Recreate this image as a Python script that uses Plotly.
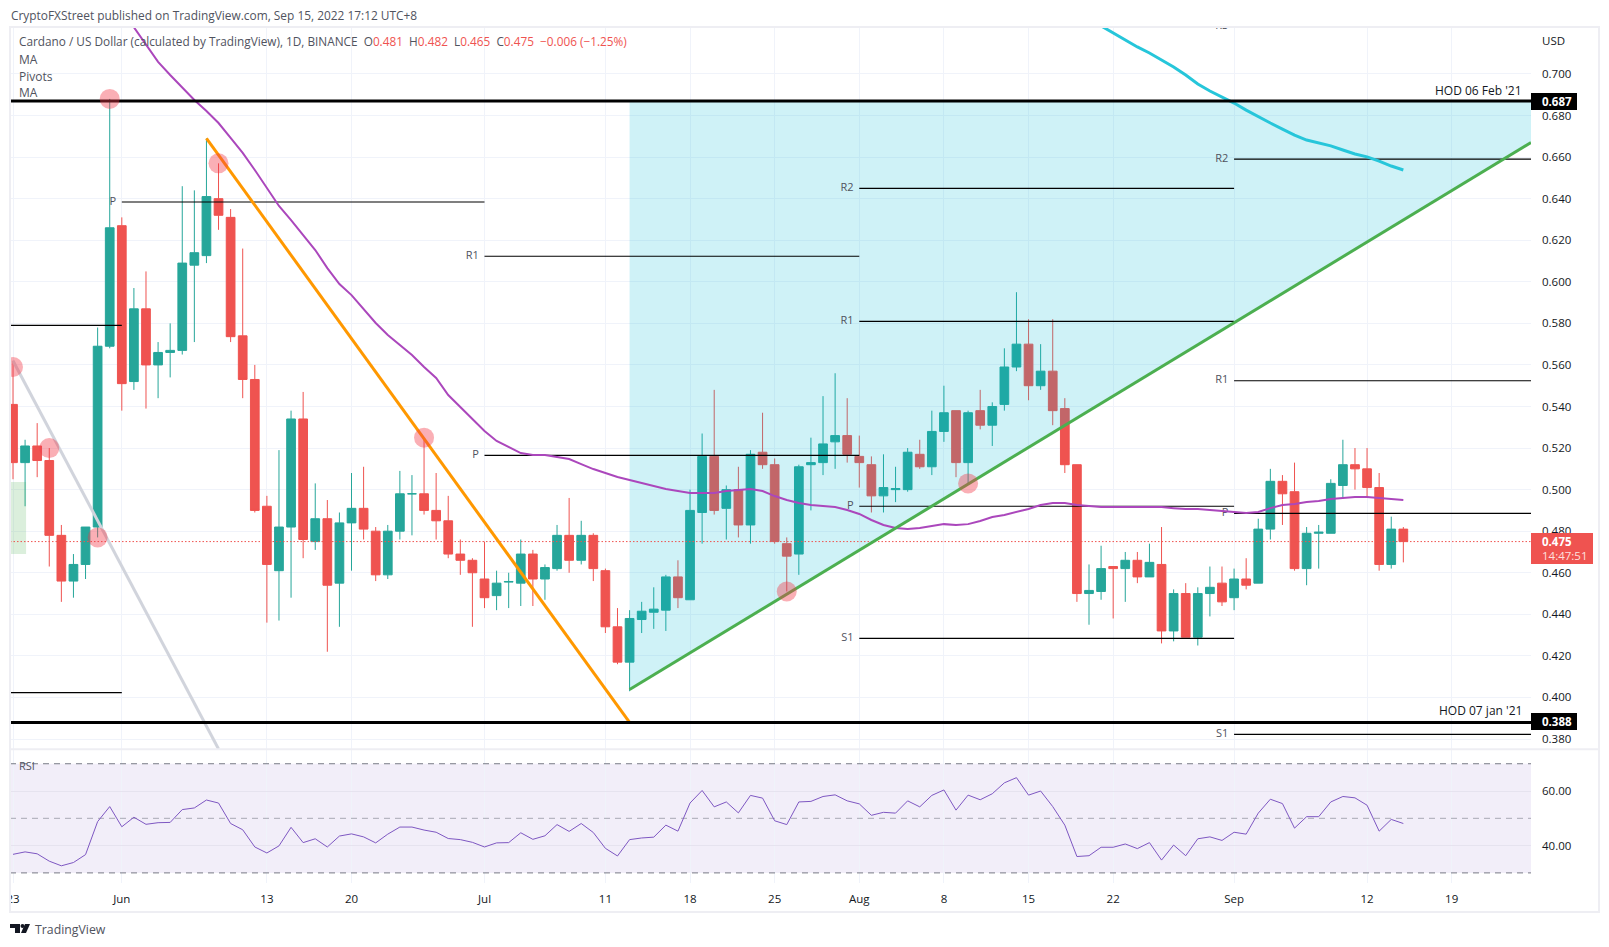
import pandas as pd
import plotly.graph_objects as go
from plotly.subplots import make_subplots

###############################################################################
# Data
###############################################################################
days = pd.date_range("2022-05-23", periods=116).strftime("%Y-%m-%d").tolist()

opens = [
    .541, .513, .521, .514, .478, .456, .464, .482, .569, .627, .552, .587, .560, .566, .567, .608,
    .6126, .640, .631, .574, .553, .492, .461, .482, .534, .475, .486, .455, .484, .491, .480, .459,
    .480, .498, .498, .490, .485, .469, .466, .457, .449, .4555, .455, .469, .457, .462, .478, .466,
    .478, .461, .434, .417, .4375, .441, .442, .458, .447, .489, .516, .491, .500, .483, .518, .512,
    .474, .469, .512, .513, .523, .526, .516, .512, .497, .500, .500, .517, .511, .528, .538, .513,
    .538, .531, .541, .559, .570, .550, .557, .539, .512, .450, .451, .463, .462, .466, .458, .464,
    .432, .450, .429, .450, .455, .448, .457, .455, .481, .504, .499, .462, .479, .479, .502, .512,
    .510, .501, .464, .481,
]
highs = [
    .562, .524, .532, .520, .483, .469, .482, .578, .688, .631, .597, .605, .571, .580, .646, .644,
    .669, .657, .635, .616, .560, .497, .519, .538, .547, .503, .495, .489, .508, .511, .482, .483,
    .509, .507, .524, .508, .497, .476, .467, .475, .461, .460, .476, .471, .464, .483, .496, .485,
    .479, .462, .443, .442, .446, .453, .459, .466, .500, .527, .548, .502, .511, .519, .537, .515,
    .477, .512, .525, .545, .556, .544, .526, .516, .517, .511, .520, .524, .538, .550, .538, .538,
    .548, .542, .568, .595, .582, .570, .582, .544, .512, .464, .473, .463, .470, .470, .474, .482,
    .452, .455, .453, .463, .463, .462, .467, .486, .510, .507, .513, .482, .483, .505, .524, .520,
    .520, .508, .487, .482,
]
lows = [
    .505, .492, .506, .463, .446, .448, .457, .477, .568, .538, .548, .539, .544, .554, .565, .571,
    .609, .625, .571, .544, .489, .436, .437, .448, .467, .471, .422, .434, .461, .476, .456, .457,
    .476, .478, .488, .476, .467, .459, .434, .443, .442, .443, .444, .444, .447, .461, .460, .464,
    .456, .431, .416, .403, .431, .433, .432, .443, .447, .474, .488, .476, .477, .474, .510, .474,
    .451, .459, .490, .507, .510, .513, .501, .489, .489, .494, .499, .510, .507, .523, .506, .503,
    .529, .521, .538, .557, .543, .548, .531, .508, .446, .435, .447, .438, .446, .455, .458, .426,
    .427, .429, .425, .439, .444, .442, .452, .455, .476, .483, .461, .454, .462, .479, .496, .500,
    .496, .461, .462, .465,
]
closes = [
    .513, .521, .514, .478, .456, .464, .482, .569, .626, .551, .587, .560, .566, .567, .609, .614,
    .641, .632, .5736, .553, .490, .464, .482, .534, .476, .486, .454, .484, .491, .481, .459, .480,
    .498, .498, .490, .485, .469, .466, .460, .448, .455, .4558, .469, .457, .4625, .478, .466, .478,
    .462, .434, .417, .438, .4415, .4425, .458, .448, .490, .516, .490, .500, .483, .517, .512, .475,
    .468, .511, .513, .522, .526, .517, .513, .497, .501, .5005, .518, .511, .528, .537, .513, .537,
    .531, .540, .559, .570, .550, .557, .538, .512, .450, .4515, .462, .462, .466, .458, .465, .432,
    .450, .429, .450, .453, .446, .457, .454, .481, .504, .498, .462, .479, .4795, .503, .512, .510,
    .501, .464, .481, .475,
]

ma_days = days[9:]
ma_purple = [
    .7308, .7226, .7144, .7058, .6995, .6933, .6875, .6822, .6764, .6692, .6620, .6538, .6451, .6365,
    .6297, .6225, .6153, .6066, .5989, .5936, .5869, .5802, .5744, .5696, .5648, .5590, .5537, .5455,
    .5398, .5340, .5282, .5234, .5205, .5176, .5167, .5167, .5157, .5147, .5123, .5099, .5080, .5061,
    .5046, .5032, .5017, .5003, .4993, .4984, .4984, .4984, .4993, .4998, .5003, .4993, .4969, .4950,
    .4936, .4926, .4921, .4916, .4902, .4883, .4854, .4830, .4815, .4810, .4815, .4825, .4834, .4830,
    .4834, .4849, .4868, .4878, .4892, .4907, .4926, .4936, .4936, .4926, .4921, .4916, .4916, .4916,
    .4916, .4916, .4916, .4911, .4907, .4907, .4902, .4897, .4892, .4887, .4892, .4911, .4926, .4931,
    .4940, .4945, .4955, .4960, .4964, .4964, .4960, .4955, .4950,
]
ma_cyan_days = days[89:]
ma_cyan = [
    .7265, .7231, .7197, .7164, .7130, .7101, .7067, .7034, .6995, .6952, .6918, .6889, .6860, .6826,
    .6793, .6764, .6735, .6706, .6682, .6668, .6654, .6634, .6615, .6601, .6581, .6557, .6538,
]
rsi = [
    36.8, 37.7, 37.0, 34.3, 32.6, 33.8, 36.7, 48.8, 54.3, 46.9, 50.4, 47.8, 48.4, 48.5, 53.2, 53.8,
    56.7, 55.6, 48.1, 45.8, 39.5, 37.3, 39.9, 46.7, 41.1, 42.5, 39.5, 43.5, 44.3, 43.2, 41.0, 44.2,
    46.8, 46.8, 45.7, 44.9, 42.6, 42.2, 41.2, 39.5, 41.0, 41.1, 44.7, 42.3, 43.6, 47.7, 45.2, 48.1,
    44.8, 39.0, 36.2, 42.2, 42.8, 43.1, 47.5, 45.3, 55.6, 60.2, 54.2, 56.0, 52.0, 58.4, 57.4, 49.1,
    47.7, 56.0, 56.2, 58.0, 58.6, 56.4, 55.3, 51.1, 52.2, 51.9, 56.4, 54.2, 58.4, 60.4, 53.0, 58.5,
    56.8, 59.0, 63.0, 64.9, 58.5, 60.0, 54.3, 47.5, 36.0, 36.3, 39.4, 39.4, 40.6, 38.9, 41.1, 34.7,
    40.2, 36.3, 42.5, 43.2, 41.9, 44.9, 44.2, 51.9, 57.0, 55.4, 46.4, 50.6, 50.6, 56.0, 58.0, 57.5,
    54.8, 45.3, 49.6, 48.1,
]

# view window of the time axis and of both price scales
x_start, x_end = "2022-05-22 18:03", "2022-09-25 13:26"
price_range = [0.3752, 0.7226]
rsi_range = [26.3, 75.4]

price_ticks = [.38, .40, .42, .44, .46, .48, .50, .52, .54, .56, .58, .60, .62, .64, .66, .68, .70]
rsi_ticks = [40, 60]
date_ticks = ["2022-05-23", "2022-06-01", "2022-06-13", "2022-06-20", "2022-07-01", "2022-07-11",
              "2022-07-18", "2022-07-25", "2022-08-01", "2022-08-08", "2022-08-15", "2022-08-22",
              "2022-09-01", "2022-09-12", "2022-09-19"]
date_labels = ["23", "Jun", "13", "20", "Jul", "11", "18", "25", "Aug", "8", "15", "22", "Sep", "12", "19"]

# monthly pivot levels
pivot_names = ["", "", "P", "P", "R1", "P", "R1", "R2", "S1", "P", "R1", "R2", "R3", "S1"]
pivot_starts = [x_start, x_start, "2022-06-01", "2022-07-01", "2022-07-01", "2022-08-01", "2022-08-01",
                "2022-08-01", "2022-08-01", "2022-09-01", "2022-09-01", "2022-09-01", "2022-09-01", "2022-09-01"]
pivot_ends = ["2022-06-01", "2022-06-01", "2022-07-01", "2022-08-01", "2022-08-01", "2022-09-01", "2022-09-01",
              "2022-09-01", "2022-09-01", x_end, x_end, x_end, x_end, x_end]
pivot_levels = [.579, .4023, .6384, .5165, .6123, .492, .581, .645, .4284, .4886, .5524, .659, .7231, .3822]

# drawn lines and marks
hod_levels = [0.687, 0.388]
last_close = 0.475
orange_x, orange_y = ["2022-06-08", "2022-07-13"], [0.669, 0.388]
gray_x, gray_y = ["2022-05-23", "2022-06-09"], [0.562, 0.3752]
green_x, green_y = ["2022-07-13", x_end], [0.4038, 0.667]
shade_x = ["2022-07-13", x_end, x_end, "2022-07-13"]
shade_y = [0.687, 0.687, 0.667, 0.4038]
circle_x = ["2022-05-23", "2022-05-26", "2022-05-30", "2022-05-31", "2022-06-09", "2022-06-26", "2022-07-26", "2022-08-10"]
circle_y = [.559, .520, .477, .688, .657, .525, .451, .503]

FONT = "Open Sans"
DARK = "#131722"
GREY = "#50535e"
RED = "#ef5350"
TEAL = "#26a69a"
BORDER = "#eeeef3"
GRID = "#f0f3fa"
W, H = 1609, 947


# pixel position in the page -> paper fraction
def px(x):
    return x / W


def py(y):
    return 1 - y / H


def page_text(x, y, text, size=12, color=DARK, anchor="left", bg=None):
    fig.add_annotation(xref="paper", yref="paper", x=px(x), y=py(y), text=text, showarrow=False,
                       xanchor=anchor, yanchor="middle", align=anchor, bgcolor=bg, borderpad=0,
                       font=dict(family=FONT, size=size, color=color))


def page_rect(x0, y0, x1, y1, fill=None, line=None, lw=0, layer="above"):
    fig.add_shape(type="rect", xref="paper", yref="paper", x0=px(x0), x1=px(x1), y0=py(y0), y1=py(y1),
                  fillcolor=fill, line=dict(color=line, width=lw), layer=layer)


def logo_path(points):
    return "M" + " L".join(f"{px(a):.5f},{py(b):.5f}" for a, b in points) + " Z"


fig = make_subplots(rows=2, cols=1, shared_xaxes=True)

###############################################################################
# Price pane
###############################################################################
fig.add_trace(go.Candlestick(
    x=days, open=opens, high=highs, low=lows, close=closes, whiskerwidth=0,
    increasing=dict(line=dict(color=TEAL, width=1), fillcolor=TEAL),
    decreasing=dict(line=dict(color=RED, width=1), fillcolor=RED),
), row=1, col=1)

# green box on the far left
fig.add_trace(go.Scatter(x=[x_start, "2022-05-24 02:00", "2022-05-24 02:00", x_start], y=[.5037, .5037, .469, .469],
                         fill="toself", mode="none", fillcolor="rgba(76,175,80,0.2)"), row=1, col=1)
# channel shading sits on top of the candles
fig.add_trace(go.Scatter(x=shade_x, y=shade_y, fill="toself", mode="none",
                         fillcolor="rgba(0,188,212,0.19)"), row=1, col=1)

pivot_x, pivot_y = [], []
for start, end, level in zip(pivot_starts, pivot_ends, pivot_levels):
    pivot_x += [start, end, None]
    pivot_y += [level, level, None]
fig.add_trace(go.Scatter(x=pivot_x, y=pivot_y, mode="lines", line=dict(color="black", width=1.2)), row=1, col=1)
fig.add_trace(go.Scatter(x=pivot_starts, y=pivot_levels, mode="text",
                         text=[name + "\u00a0\u00a0" for name in pivot_names], textposition="middle left",
                         textfont=dict(family=FONT, size=11, color=GREY)), row=1, col=1)

fig.add_trace(go.Scatter(x=[x_start, x_end], y=[last_close, last_close], mode="lines",
                         line=dict(color=RED, width=1, dash="1.5px,2px")), row=1, col=1)
fig.add_trace(go.Scatter(x=gray_x, y=gray_y, mode="lines", line=dict(color="#d1d4dc", width=3)), row=1, col=1)
fig.add_trace(go.Scatter(x=ma_days, y=ma_purple, mode="lines", line=dict(color="#ab47bc", width=2)), row=1, col=1)
fig.add_trace(go.Scatter(x=ma_cyan_days, y=ma_cyan, mode="lines", line=dict(color="#26c6da", width=3)), row=1, col=1)
fig.add_trace(go.Scatter(x=orange_x, y=orange_y, mode="lines", line=dict(color="#ff9800", width=3)), row=1, col=1)
fig.add_trace(go.Scatter(x=green_x, y=green_y, mode="lines", line=dict(color="#4caf50", width=3)), row=1, col=1)
for level in hod_levels:
    fig.add_trace(go.Scatter(x=[x_start, x_end], y=[level, level], mode="lines",
                             line=dict(color="black", width=3)), row=1, col=1)
fig.add_trace(go.Scatter(x=circle_x, y=circle_y, mode="markers",
                         marker=dict(size=20, color="rgba(242,54,69,0.4)", line=dict(width=0))), row=1, col=1)

###############################################################################
# RSI pane
###############################################################################
fig.add_shape(type="rect", xref="x2 domain", yref="y2", x0=0, x1=1, y0=30, y1=70, layer="below",
              fillcolor="rgba(126,87,194,0.1)", line=dict(width=0))
for level, colour in [(70, "#787b86"), (50, "rgba(120,123,134,0.6)"), (30, "#787b86")]:
    fig.add_trace(go.Scatter(x=[x_start, x_end], y=[level, level], mode="lines",
                             line=dict(color=colour, width=1, dash="6px,5px")), row=2, col=1)
fig.add_trace(go.Scatter(x=days, y=rsi, mode="lines", line=dict(color="#7e57c2", width=1)), row=2, col=1)

###############################################################################
# Layout
###############################################################################
tick_font = dict(family=FONT, size=11.5, color=DARK)
fig.update_layout(
    width=W, height=H, autosize=False, showlegend=False, paper_bgcolor="white", plot_bgcolor="white",
    margin=dict(l=0, r=0, t=0, b=0), boxgap=0.28, boxgroupgap=0,
    xaxis=dict(domain=[px(10), px(1531)], type="date", range=[x_start, x_end], rangeslider=dict(visible=False),
               tickvals=date_ticks, ticktext=date_labels, showticklabels=False, showgrid=True, gridcolor=GRID,
               gridwidth=1, zeroline=False, showline=False, automargin=False),
    xaxis2=dict(domain=[px(10), px(1531)], type="date", range=[x_start, x_end], tickvals=date_ticks,
                ticktext=date_labels, tickfont=tick_font, tickangle=0, showgrid=True, gridcolor=GRID,
                gridwidth=1, zeroline=False, showline=False, ticks="outside", ticklen=5, tickcolor="white",
                automargin=False),
    yaxis=dict(domain=[py(749), py(27)], range=price_range, side="right", tickvals=price_ticks,
               tickformat=".3f", tickfont=tick_font, ticklabelstandoff=10, gridcolor=GRID, gridwidth=1,
               zeroline=False, showline=False, automargin=False),
    yaxis2=dict(domain=[py(883), py(749)], range=rsi_range, side="right", tickvals=rsi_ticks,
                tickformat=".2f", tickfont=tick_font, ticklabelstandoff=10, gridcolor="#e6e3ef", gridwidth=1,
                zeroline=False, showline=False, automargin=False),
)

# the first date label is cut off by the frame
page_rect(0, 888, 10, 908, fill="white")

# chart frame and pane divider
page_rect(10, 27, 1599, 912, line=BORDER, lw=2)
page_rect(10, 749, 1599, 749.5, line=BORDER, lw=1.5)

# TradingView logo
fig.add_shape(type="path", xref="paper", yref="paper", line=dict(width=0), fillcolor=DARK,
              path=logo_path([(10, 924), (20, 924), (20, 933), (15, 933), (15, 928), (10, 928)]))
fig.add_shape(type="circle", xref="paper", yref="paper", x0=px(20.5), x1=px(24.5), y0=py(924), y1=py(928),
              line=dict(width=0), fillcolor=DARK)
fig.add_shape(type="path", xref="paper", yref="paper", line=dict(width=0), fillcolor=DARK,
              path=logo_path([(25, 924), (30, 924), (26, 933), (21, 933)]))

# price tags on the right scale
page_rect(1531, 93, 1577, 110, fill="black")
page_rect(1531, 713, 1577, 730, fill="black")
page_rect(1531, 533, 1593, 564, fill=RED)

page_text(10, 15, "CryptoFXStreet published on TradingView.com, Sep 15, 2022 17:12 UTC+8", size=11.9, color=GREY)
red = '<span style="color:#ef5350">'
header = ("Cardano / US Dollar (calculated by TradingView), 1D, BINANCE\u00a0\u00a0"
          f"O{red}0.481</span>\u00a0\u00a0H{red}0.482</span>\u00a0\u00a0L{red}0.465</span>\u00a0\u00a0"
          f"C{red}0.475</span>\u00a0\u00a0{red}\u22120.006 (\u22121.25%)</span>")
page_text(18, 41, header, size=11.8, color=GREY)
page_text(18, 59, "MA", size=12, color=GREY)
page_text(18, 76, "Pivots", size=12, color=GREY)
page_text(18, 93, "MA", size=12, color=GREY)
page_text(18, 765, "RSI", size=11, color=GREY)
page_text(1541, 41, "USD", size=11.5)
page_text(1523, 91, "HOD 06 Feb '21", size=12, anchor="right")
page_text(1523, 710, "HOD 07 jan '21", size=12, anchor="right")
page_text(1541, 101.5, "<b>0.687</b>", size=11.5, color="white")
page_text(1541, 721.5, "<b>0.388</b>", size=11.5, color="white")
page_text(1541, 541, "<b>0.475</b>", size=11.5, color="white")
page_text(1541, 555, "14:47:51", size=11.5, color="#fde0df")
page_text(34, 929.5, "TradingView", size=12.3, color=GREY)

fig.write_html("out.html", config={"displayModeBar": False}, post_script="document.body.style.margin = '0';")
